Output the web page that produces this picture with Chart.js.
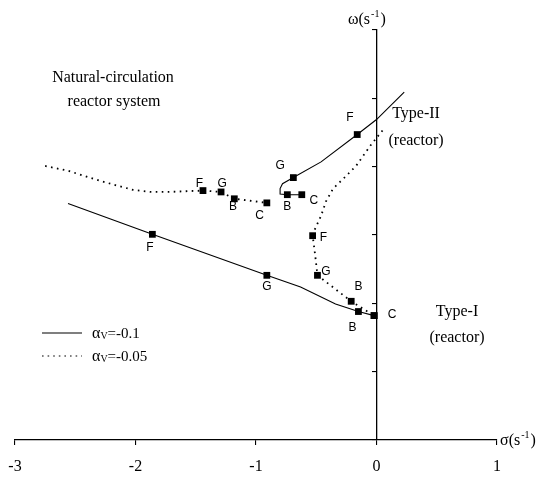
<!DOCTYPE html>
<html>
<head>
<meta charset="utf-8">
<script src="https://cdn.jsdelivr.net/npm/chart.js@4.4.0/dist/chart.umd.min.js"></script>
<style>
html, body { margin: 0; padding: 0; background: #fff; }
</style>
</head>
<body>
<canvas id="c" width="545" height="478"></canvas>
<script>
// sigma (x) and omega (y)
let xTicks = [-3, -2, -1, 0, 1];

// alpha_v = -0.1, lower branch (Type-I)
let solidLowX = [-2.56, -1.86, -0.91, -0.63, -0.34, -0.15, -0.02];
let solidLowY = [3.46, 3.01, 2.41, 2.24, 1.99, 1.88, 1.82];
let solidLowMk = [0, 1, 1, 0, 0, 1, 1];

// alpha_v = -0.1, upper branch (Type-II)
let solidUpX = [-0.62, -0.74, -0.80, -0.80, -0.78, -0.69, -0.46, -0.16, 0.0, 0.23];
let solidUpY = [3.59, 3.59, 3.60, 3.68, 3.75, 3.84, 4.07, 4.47, 4.69, 5.09];
let solidUpMk = [1, 1, 0, 0, 0, 1, 0, 1, 0, 0];

// alpha_v = -0.05, left branch
let dotLeftX = [-2.75, -2.56, -2.29, -2.02, -1.88, -1.73, -1.44, -1.29, -1.18, -0.91];
let dotLeftY = [4.01, 3.94, 3.79, 3.66, 3.63, 3.63, 3.65, 3.63, 3.53, 3.47];
let dotLeftMk = [0, 0, 0, 0, 0, 0, 1, 1, 1, 1];

// alpha_v = -0.05, right branch
let dotRightX = [0.05, -0.05, -0.17, -0.26, -0.36, -0.42, -0.46, -0.51, -0.53, -0.51, -0.49, -0.21, -0.02];
let dotRightY = [4.53, 4.31, 4.01, 3.85, 3.68, 3.49, 3.28, 3.09, 2.99, 2.72, 2.41, 2.03, 1.82];
let dotRightMk = [0, 0, 0, 0, 0, 0, 0, 0, 1, 0, 1, 1, 1];

// point letters next to the markers
let ptText = ['F', 'G', 'B', 'C', 'G', 'B', 'C', 'F', 'F', 'G', 'B', 'C', 'F', 'G', 'B'];
let ptX = [-1.88, -0.91, -0.20, 0.13, -0.80, -0.74, -0.52, -0.22, -1.47, -1.28, -1.19, -0.97, -0.44, -0.42, -0.15];
let ptY = [2.81, 2.24, 1.65, 1.84, 4.01, 3.41, 3.50, 4.71, 3.75, 3.75, 3.41, 3.28, 2.96, 2.47, 2.24];

function pts(xs, ys) {
    let out = [];
    for (let i = 0; i < xs.length; i++) out.push({x: xs[i], y: ys[i]});
    return out;
}
function radii(mk) {
    return mk.map(m => m ? 4.8 : 0);
}
function ds(xs, ys, mk, dotted) {
    return {
        data: pts(xs, ys),
        borderColor: '#000',
        backgroundColor: '#000',
        borderWidth: dotted ? 1.8 : 1.1,
        borderDash: dotted ? [1.6, 4.4] : [],
        pointStyle: 'rect',
        pointRadius: radii(mk),
        pointBorderWidth: 0,
        pointBackgroundColor: '#000',
        tension: 0,
        fill: false,
        clip: false
    };
}

const serif = '"Liberation Serif", "DejaVu Serif", serif';
const sans = '"Liberation Sans", Arial, sans-serif';

function supText(ctx, x, y, a, sup, b, size) {
    ctx.font = size + 'px ' + serif;
    ctx.textAlign = 'left';
    ctx.textBaseline = 'alphabetic';
    ctx.fillText(a, x, y);
    let w = ctx.measureText(a).width;
    ctx.font = Math.round(size * 0.62) + 'px ' + serif;
    ctx.fillText(sup, x + w + 1, y - size * 0.42);
    let w2 = ctx.measureText(sup).width;
    ctx.font = size + 'px ' + serif;
    ctx.fillText(b, x + w + w2 + 2, y);
}

function alphaText(ctx, x, y, val) {
    ctx.textAlign = 'left';
    ctx.textBaseline = 'alphabetic';
    ctx.font = '16px ' + serif;
    ctx.fillText('\u03b1', x, y);
    let w = ctx.measureText('\u03b1').width;
    ctx.font = '10px ' + serif;
    ctx.fillText('V', x + w, y + 1);
    let w2 = ctx.measureText('V').width;
    ctx.font = '15px ' + serif;
    ctx.fillText('=' + val, x + w + w2, y);
}

const textPlugin = {
    id: 'texts',
    afterDatasetsDraw(chart) {
        let ctx = chart.ctx;
        let sx = chart.scales.x, sy = chart.scales.y;
        ctx.save();
        ctx.fillStyle = '#000';

        // letters at the markers
        ctx.font = '12px ' + sans;
        ctx.textAlign = 'center';
        ctx.textBaseline = 'middle';
        for (let i = 0; i < ptText.length; i++) {
            ctx.fillText(ptText[i], sx.getPixelForValue(ptX[i]), sy.getPixelForValue(ptY[i]));
        }

        // captions
        ctx.font = '16px ' + serif;
        ctx.textAlign = 'center';
        ctx.textBaseline = 'middle';
        ctx.fillText('Natural-circulation', 113, 78);
        ctx.fillText('reactor system', 114, 102);
        ctx.fillText('Type-II', 416, 114);
        ctx.fillText('(reactor)', 416, 141);
        ctx.fillText('Type-I', 457, 312);
        ctx.fillText('(reactor)', 457, 338);

        // axis titles
        supText(ctx, 348, 24, '\u03c9(s', '-1', ')', 16);
        supText(ctx, 500, 445, '\u03c3(s', '-1', ')', 16);

        // legend
        ctx.strokeStyle = '#000';
        ctx.lineWidth = 1.1;
        ctx.beginPath();
        ctx.moveTo(42, 333);
        ctx.lineTo(82, 333);
        ctx.stroke();
        ctx.lineWidth = 1.2;
        ctx.setLineDash([1.6, 4]);
        ctx.beginPath();
        ctx.moveTo(42, 356);
        ctx.lineTo(82, 356);
        ctx.stroke();
        ctx.setLineDash([]);
        alphaText(ctx, 92, 338, '-0.1');
        alphaText(ctx, 92, 361, '-0.05');
        ctx.restore();
    }
};

Chart.defaults.devicePixelRatio = 1;
new Chart(document.getElementById('c'), {
    type: 'line',
    data: {
        datasets: [
            ds(solidLowX, solidLowY, solidLowMk, false),
            ds(solidUpX, solidUpY, solidUpMk, false),
            ds(dotLeftX, dotLeftY, dotLeftMk, true),
            ds(dotRightX, dotRightY, dotRightMk, true)
        ]
    },
    options: {
        responsive: false,
        animation: false,
        layout: {padding: {left: 15, right: 48, top: 30, bottom: 0}},
        plugins: {legend: {display: false}, tooltip: {enabled: false}},
        scales: {
            x: {
                type: 'linear',
                min: -3,
                max: 1,
                afterBuildTicks: s => { s.ticks = xTicks.map(v => ({value: v})); },
                afterFit: s => { s.height = 38; s.paddingLeft = 15; s.paddingRight = 20; },
                ticks: {
                    color: '#000',
                    font: {family: serif, size: 16},
                    padding: 12,
                    maxRotation: 0,
                    callback: v => String(v)
                },
                grid: {drawOnChartArea: false, drawTicks: true, tickLength: 5, color: '#000', lineWidth: 1.1},
                border: {color: '#000', width: 1.3}
            },
            y: {
                type: 'linear',
                position: {x: 0},
                min: 0,
                max: 6,
                ticks: {display: false, stepSize: 1},
                grid: {drawOnChartArea: false, drawTicks: true, tickLength: 4, color: '#000', lineWidth: 1.1},
                border: {color: '#000', width: 1.3}
            }
        }
    },
    plugins: [textPlugin]
});
</script>
</body>
</html>
